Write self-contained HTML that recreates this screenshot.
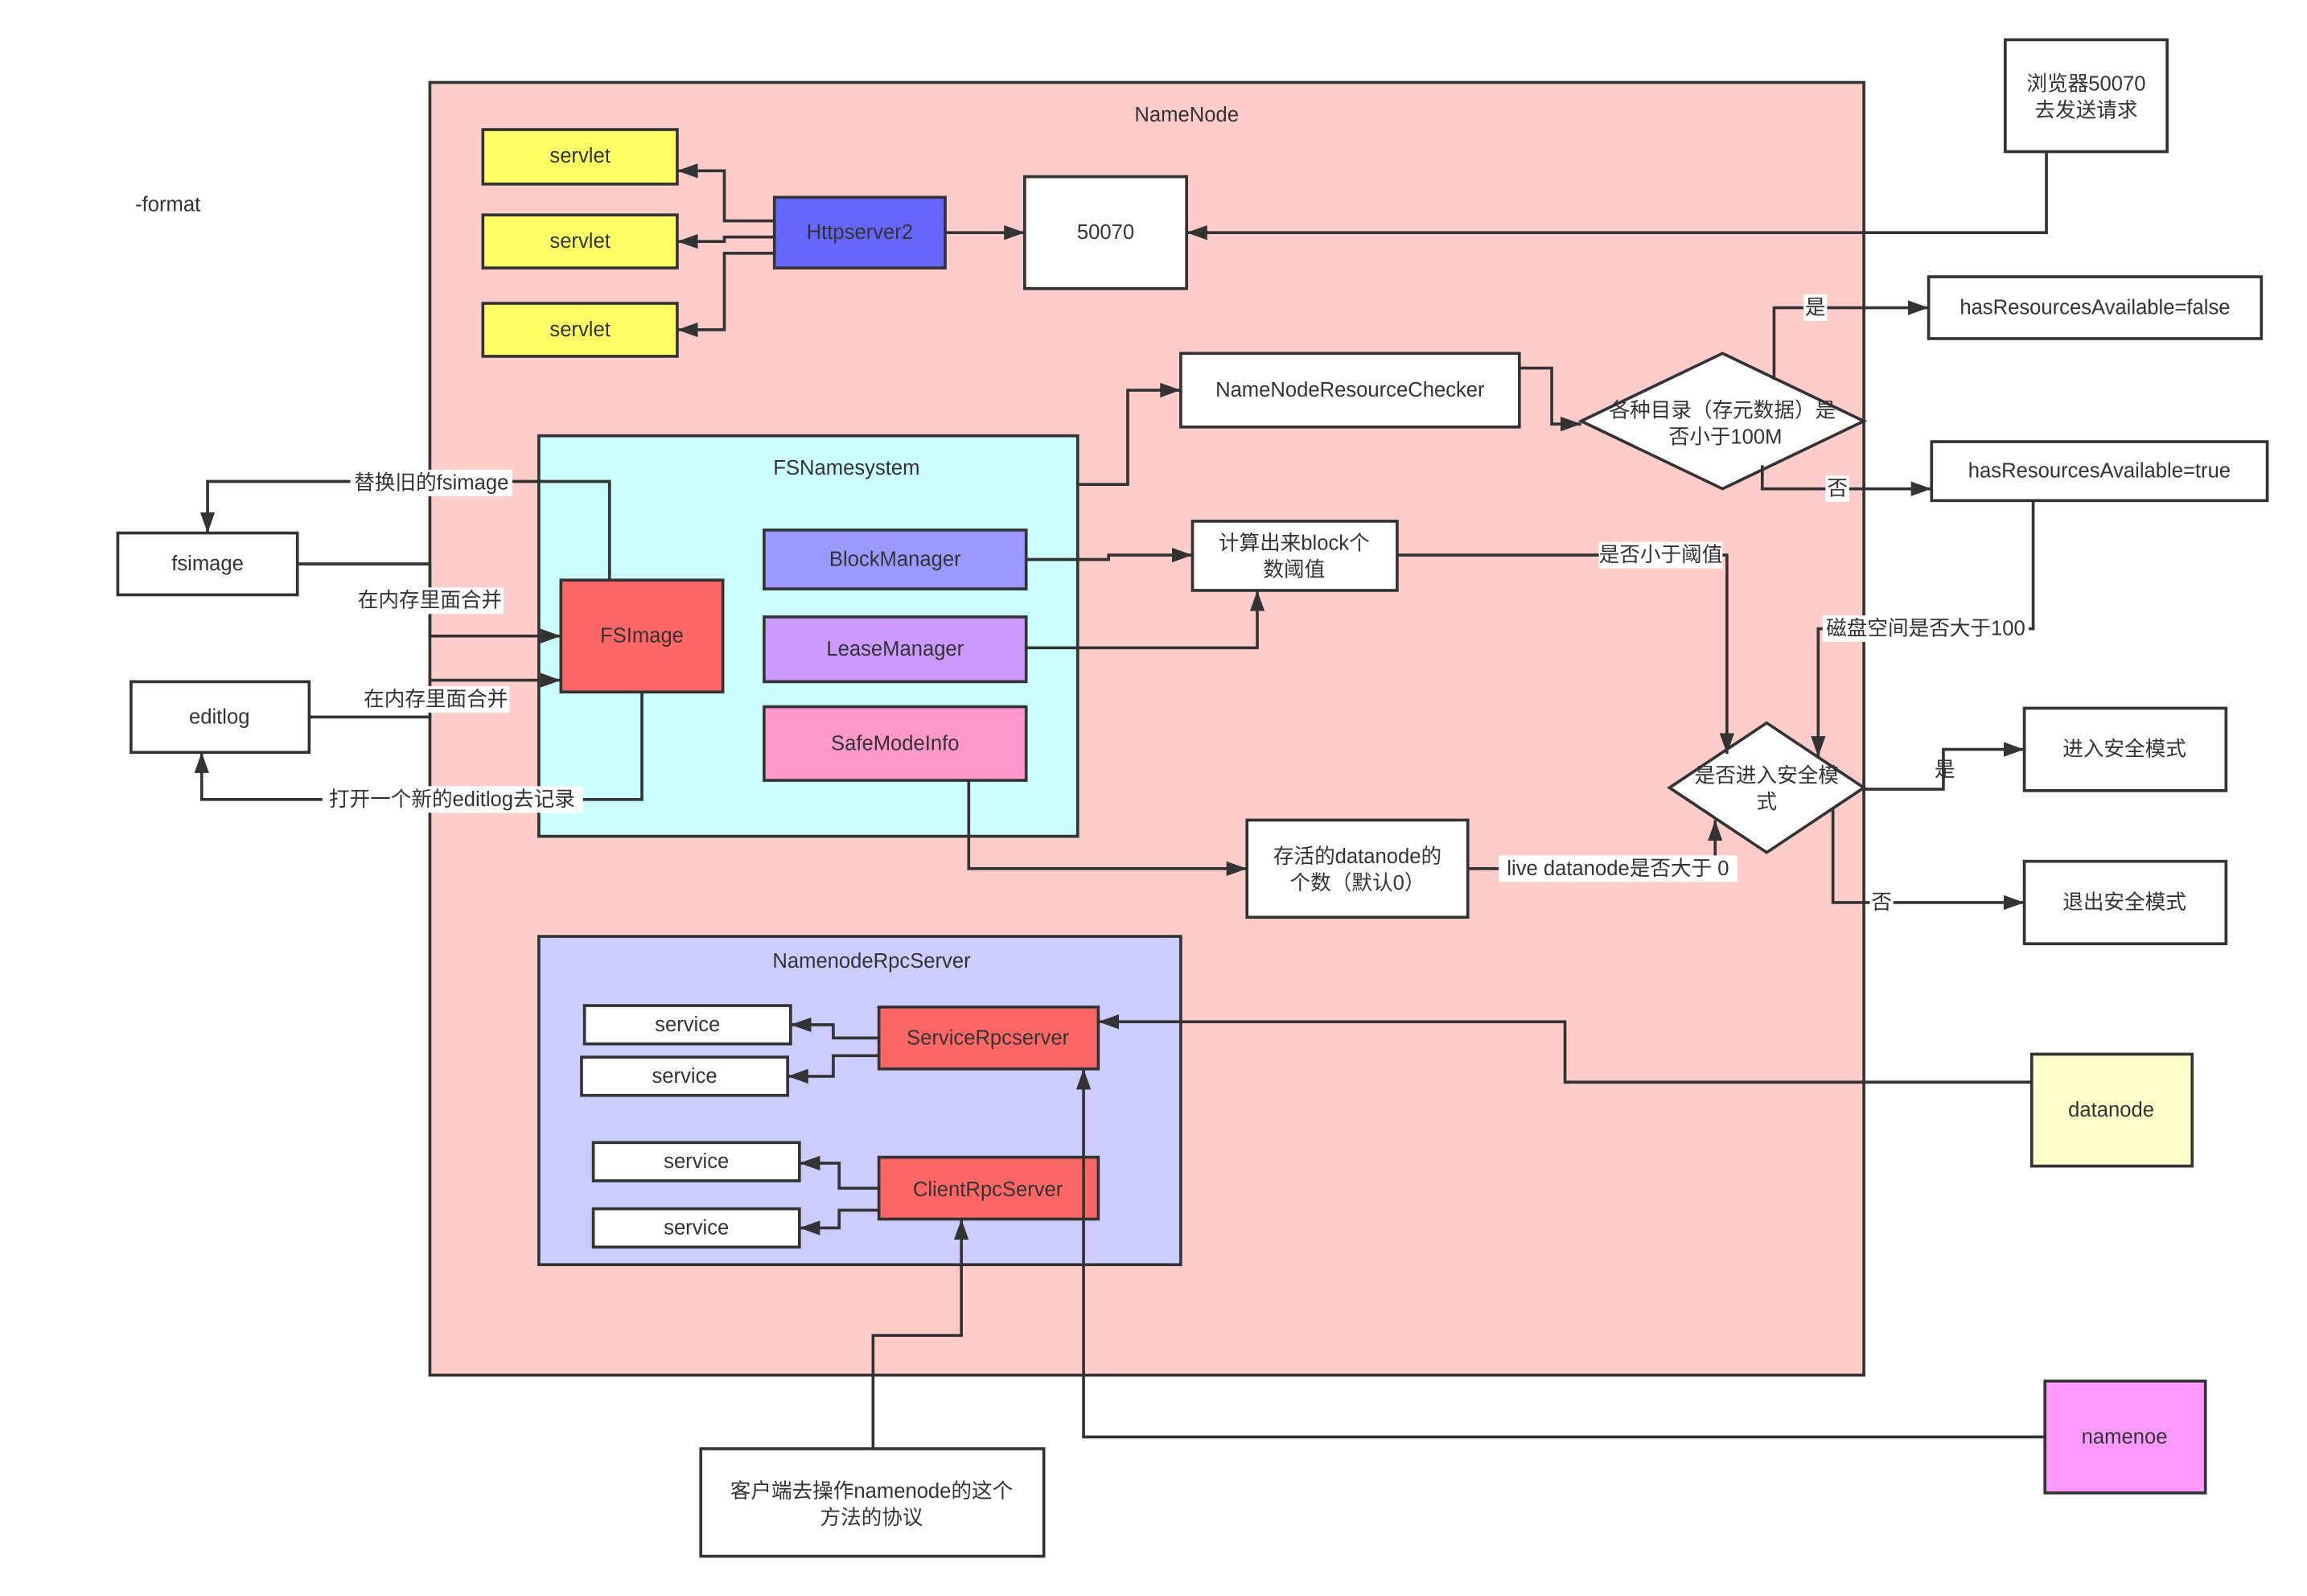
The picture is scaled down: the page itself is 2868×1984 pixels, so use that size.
<!DOCTYPE html>
<html><head><meta charset="utf-8"><style>
html,body{margin:0;padding:0;background:#fff;}
svg{display:block;}
text{font-family:"Liberation Sans","Noto Sans CJK SC",sans-serif;font-size:14px;fill:#333;text-anchor:middle;dominant-baseline:central;}
.b{stroke:#333;stroke-width:2;}
.l{stroke:#333;stroke-width:2;fill:none;marker-end:url(#a);}
.lb{fill:#fff;}
</style></head><body>
<svg width="2868" height="1984" viewBox="0 0 1567 1084" preserveAspectRatio="none" xmlns="http://www.w3.org/2000/svg">
<defs><marker id="a" viewBox="0 0 14 10" refX="14" refY="5" markerWidth="14" markerHeight="10" markerUnits="userSpaceOnUse" orient="auto"><path d="M0,0L14,5L0,10z" fill="#333"/></marker></defs>
<text x="114" y="139">-format</text>
<rect x="292" y="56" width="974" height="878" fill="#FFCCCC" class="b"/>
<text x="806" y="78">NameNode</text>
<rect x="328" y="88" width="132" height="37" fill="#FFFF66" class="b"/><text x="394" y="106">servlet</text>
<rect x="328" y="146" width="132" height="36" fill="#FFFF66" class="b"/><text x="394" y="164">servlet</text>
<rect x="328" y="206" width="132" height="36" fill="#FFFF66" class="b"/><text x="394" y="224">servlet</text>
<rect x="526" y="134" width="116" height="48" fill="#6666FF" class="b"/><text x="584" y="158">Httpserver2</text>
<rect x="696" y="120" width="110" height="76" fill="#fff" class="b"/><text x="751" y="158">50070</text>
<rect x="1362" y="27" width="110" height="76" fill="#fff" class="b"/><text x="1417" y="57">浏览器50070</text><text x="1417" y="75">去发送请求</text>
<path class="l" d="M1390,103V158H806"/>
<path class="l" d="M642,158H696"/>
<path class="l" d="M526,150H492V116H460"/>
<path class="l" d="M526,161H492V164H460"/>
<path class="l" d="M526,172H492V224H460"/>
<rect x="802" y="240" width="230" height="50" fill="#fff" class="b"/><text x="917" y="265">NameNodeResourceChecker</text>
<polygon points="1074,286 1170,240 1266,286 1170,332" fill="#fff" class="b"/>
<text x="1170" y="279">各种目录（存元数据）是</text><text x="1172" y="297">否小于100M</text>
<path class="l" d="M1032,250H1054V288H1074"/>
<rect x="1310" y="188" width="226" height="42" fill="#fff" class="b"/><text x="1423" y="209">hasResourcesAvailable=false</text>
<rect x="1312" y="300" width="228" height="40" fill="#fff" class="b"/><text x="1426" y="320">hasResourcesAvailable=true</text>
<path class="l" d="M1205,258V209H1310"/><rect x="1225" y="200" width="16" height="18" class="lb"/><text x="1233" y="209">是</text>
<path class="l" d="M1197,316V332H1312"/><rect x="1240" y="323" width="16" height="18" class="lb"/><text x="1248" y="332">否</text>
<rect x="366" y="296" width="366" height="272" fill="#CCFFFF" class="b"/><text x="575" y="318">FSNamesystem</text>
<path class="l" d="M732,329H766V265H802"/>
<rect x="519" y="360" width="178" height="40" fill="#9999FF" class="b"/><text x="608" y="380">BlockManager</text>
<rect x="519" y="419" width="178" height="44" fill="#CC99FF" class="b"/><text x="608" y="441">LeaseManager</text>
<rect x="519" y="480" width="178" height="50" fill="#FF99CC" class="b"/><text x="608" y="505">SafeModeInfo</text>
<rect x="381" y="394" width="110" height="76" fill="#FF6666" class="b"/><text x="436" y="432">FSImage</text>
<rect x="810" y="354" width="139" height="47" fill="#fff" class="b"/><text x="879" y="369">计算出来block个</text><text x="879" y="387">数阈值</text>
<path class="l" d="M697,380H753V377H810"/>
<path class="l" d="M697,440H854V401"/>
<polygon points="1134,535 1200,491 1266,535 1200,579" fill="#fff" class="b"/>
<text x="1200" y="527">是否进入安全模</text><text x="1200" y="545">式</text>
<path class="l" d="M949,377H1173V512"/><rect x="1086" y="368" width="84" height="18" class="lb"/><text x="1128" y="377">是否小于阈值</text>
<path class="l" d="M1381,340V427H1235V514"/><rect x="1238" y="418" width="140" height="18" class="lb"/><text x="1308" y="427">磁盘空间是否大于100</text>
<rect x="847" y="557" width="150" height="66" fill="#fff" class="b"/><text x="922" y="582">存活的datanode的</text><text x="922" y="600">个数（默认0）</text>
<path class="l" d="M997,590H1165V557"/><rect x="1018" y="581" width="162" height="18" class="lb"/><text x="1099" y="590">live datanode是否大于 0</text>
<path class="l" d="M658,530V590H847"/>
<rect x="1375" y="481" width="137" height="56" fill="#fff" class="b"/><text x="1443" y="509">进入安全模式</text>
<rect x="1375" y="585" width="137" height="56" fill="#fff" class="b"/><text x="1443" y="613">退出安全模式</text>
<path class="l" d="M1266,536H1320V509H1375"/><text x="1321" y="523">是</text>
<path class="l" d="M1245,550V613H1375"/><rect x="1270" y="604" width="16" height="18" class="lb"/><text x="1278" y="613">否</text>
<rect x="80" y="362" width="122" height="42" fill="#fff" class="b"/><text x="141" y="383">fsimage</text>
<rect x="89" y="463" width="121" height="48" fill="#fff" class="b"/><text x="149" y="487">editlog</text>
<path class="l" d="M202,383H292V432H381"/><rect x="242" y="399" width="100" height="18" class="lb"/><text x="292" y="408">在内存里面合并</text>
<path class="l" d="M210,487H292V462H381"/><rect x="246" y="466" width="100" height="18" class="lb"/><text x="296" y="475">在内存里面合并</text>
<path class="l" d="M414,394V327H141V362"/><rect x="238" y="319" width="110" height="18" class="lb"/><text x="293" y="328">替换旧的fsimage</text>
<path class="l" d="M436,470V543H137V511"/><rect x="219" y="534" width="177" height="18" class="lb"/><text x="307" y="543">打开一个新的editlog去记录</text>
<rect x="366" y="636" width="436" height="223" fill="#CCCCFF" class="b"/><text x="592" y="653">NamenodeRpcServer</text>
<rect x="397" y="683" width="140" height="26" fill="#fff" class="b"/><text x="467" y="696">service</text>
<rect x="395" y="718" width="140" height="26" fill="#fff" class="b"/><text x="465" y="731">service</text>
<rect x="403" y="776" width="140" height="26" fill="#fff" class="b"/><text x="473" y="789">service</text>
<rect x="403" y="821" width="140" height="26" fill="#fff" class="b"/><text x="473" y="834">service</text>
<rect x="597" y="684" width="149" height="42" fill="#FF6666" class="b"/><text x="671" y="705">ServiceRpcserver</text>
<rect x="597" y="786" width="149" height="42" fill="#FF6666" class="b"/><text x="671" y="808">ClientRpcServer</text>
<path class="l" d="M597,705H566V696H537"/>
<path class="l" d="M597,717H566V731H535"/>
<path class="l" d="M597,807H570V790H543"/>
<path class="l" d="M597,822H570V834H543"/>
<rect x="1380" y="716" width="109" height="76" fill="#FFFFCC" class="b"/><text x="1434" y="754">datanode</text>
<path class="l" d="M1380,735H1063V694H746"/>
<rect x="1389" y="938" width="109" height="76" fill="#FF99FF" class="b"/><text x="1443" y="976">namenoe</text>
<path class="l" d="M1389,976H736V726"/>
<rect x="476" y="984" width="233" height="73" fill="#fff" class="b"/><text x="592" y="1013">客户端去操作namenode的这个</text><text x="592" y="1031">方法的协议</text>
<path class="l" d="M593,984V907H653V828"/>
</svg>
</body></html>
